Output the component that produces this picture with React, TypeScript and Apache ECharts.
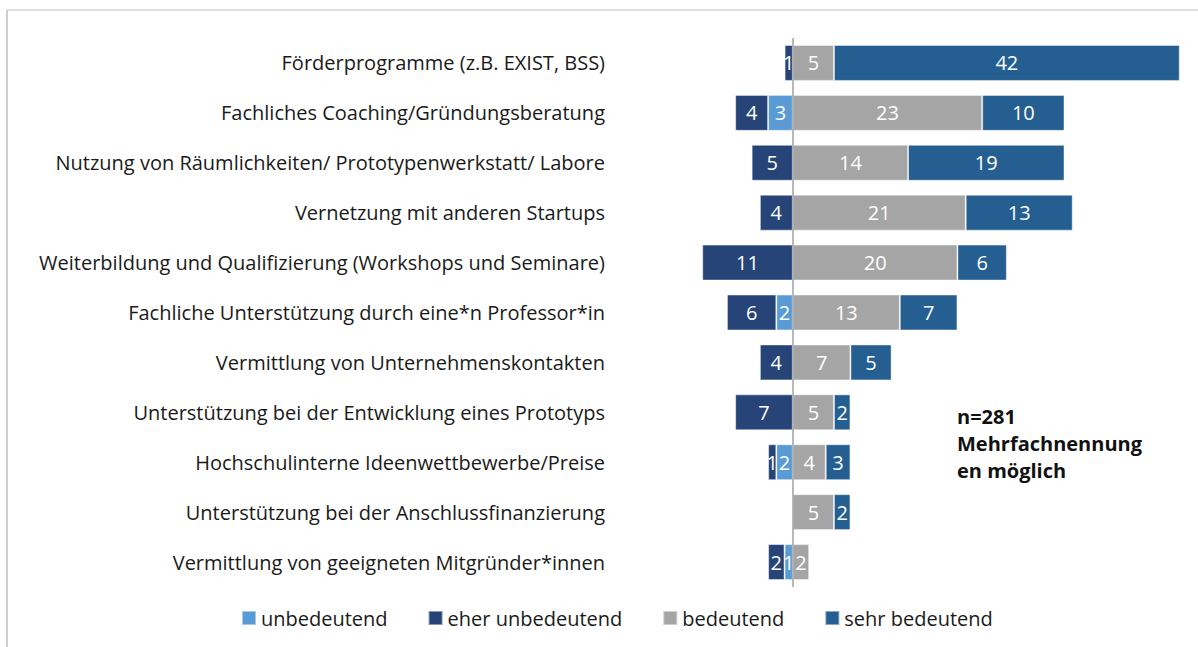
import React, { useEffect, useRef } from "react";
import * as echarts from "echarts";

const categories = [
  "Förderprogramme (z.B. EXIST, BSS)",
  "Fachliches Coaching/Gründungsberatung",
  "Nutzung von Räumlichkeiten/ Prototypenwerkstatt/ Labore",
  "Vernetzung mit anderen Startups",
  "Weiterbildung und Qualifizierung (Workshops und Seminare)",
  "Fachliche Unterstützung durch eine*n Professor*in",
  "Vermittlung von Unternehmenskontakten",
  "Unterstützung bei der Entwicklung eines Prototyps",
  "Hochschulinterne Ideenwettbewerbe/Preise",
  "Unterstützung bei der Anschlussfinanzierung",
  "Vermittlung von geeigneten Mitgründer*innen",
];
const unbedeutend = [0, 3, 0, 0, 0, 2, 0, 0, 2, 0, 1];
const eherUnbedeutend = [1, 4, 5, 4, 11, 6, 4, 7, 1, 0, 2];
const bedeutend = [5, 23, 14, 21, 20, 13, 7, 5, 4, 5, 2];
const sehrBedeutend = [42, 10, 19, 13, 6, 7, 5, 2, 3, 2, 0];
const seriesNames = ["unbedeutend", "eher unbedeutend", "bedeutend", "sehr bedeutend"];
const colors = ["#5B9BD5", "#264478", "#A5A5A5", "#255E91"];
const noteLines = ["n=281", "Mehrfachnennung", "en möglich"];

const FONT = "'Open Sans', 'Noto Sans', sans-serif";

export default function App() {
  const ref = useRef<HTMLDivElement>(null);
  useEffect(() => {
    if (!ref.current) return;
    const chart = echarts.init(ref.current, null, { renderer: "svg" });
    const label = {
      show: true,
      position: "inside",
      color: "#fff",
      fontSize: 20,
      fontFamily: FONT,
      formatter: (p: any) => (p.value === 0 ? "" : String(Math.abs(p.value))),
    };
    const mk = (name: string, data: number[], neg: boolean, i: number) => ({
      name,
      type: "bar",
      stack: "all",
      barWidth: "72%",
      data: data.map((v) => (neg ? -v : v)),
      itemStyle: { color: colors[i], borderColor: "rgba(255,255,255,0.45)", borderWidth: 1 },
      label,
      silent: true,
    });
    const series: any[] = [
      mk(seriesNames[0], unbedeutend, true, 0),
      mk(seriesNames[1], eherUnbedeutend, true, 1),
      mk(seriesNames[2], bedeutend, false, 2),
      mk(seriesNames[3], sehrBedeutend, false, 3),
    ];
    series[0].markLine = {
      silent: true,
      symbol: "none",
      label: { show: false },
      lineStyle: { color: "#A0A0A0", width: 1.5, type: "solid" },
      data: [{ xAxis: 0 }],
      z: 10,
    };
    chart.setOption({
      animation: false,
      textStyle: { fontFamily: FONT },
      grid: { left: 694, width: 494, top: 38, height: 549, containLabel: false },
      xAxis: {
        type: "value",
        min: -12,
        max: 48,
        show: false,
      },
      yAxis: {
        type: "category",
        data: categories,
        inverse: true,
        axisLine: { show: false },
        axisTick: { show: false },
        axisLabel: { margin: 89, fontSize: 20, color: "#1a1a1a", fontFamily: FONT },
      },
      legend: {
        bottom: 14,
        left: 236,
        itemWidth: 14,
        itemHeight: 14,
        itemGap: 40,
        icon: "rect",
        textStyle: { fontSize: 20, color: "#1a1a1a", fontFamily: FONT },
        data: seriesNames,
      },
      graphic: [
        { type: "line", shape: { x1: 7, y1: 10, x2: 1198, y2: 10 }, style: { stroke: "#BFBFBF", lineWidth: 1 } },
        { type: "line", shape: { x1: 7, y1: 10, x2: 7, y2: 647 }, style: { stroke: "#BFBFBF", lineWidth: 1.5 } },
        ...noteLines.map((t, i) => ({
          type: "text",
          left: 957,
          top: 406 + i * 27,
          style: { text: t, fontSize: 20, fontWeight: "bold", fill: "#111", fontFamily: FONT },
        })),
      ],
      series,
    });
    return () => chart.dispose();
  }, []);
  return <div ref={ref} style={{ width: 1198, height: 647, position: "absolute", left: 0, top: 0 }} />;
}
